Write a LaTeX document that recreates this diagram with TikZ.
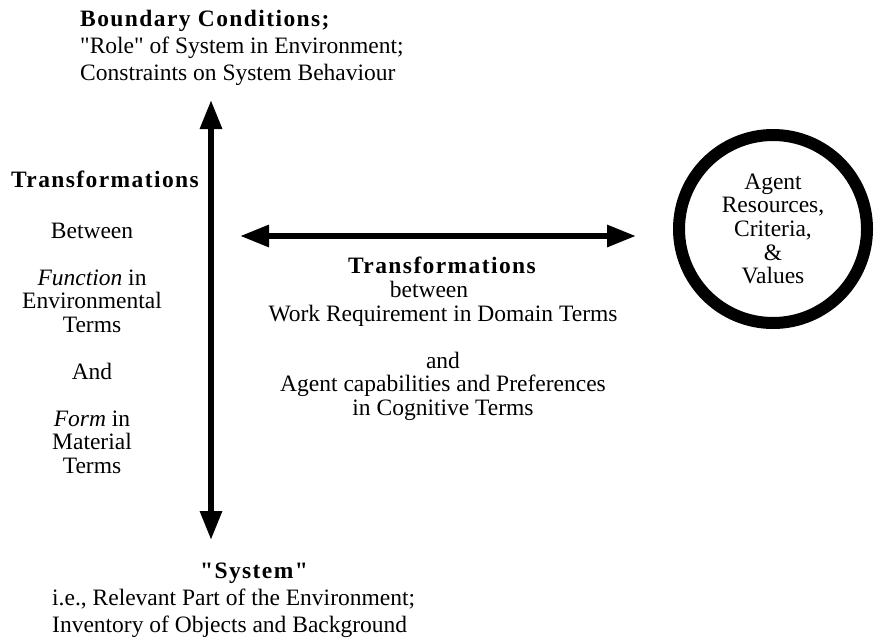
\documentclass[tikz,border=0pt]{standalone}
\usepackage{fontspec}
\setmainfont{Liberation Serif}[Ligatures=TeXOff]
\usetikzlibrary{positioning,arrows.meta}

\begin{document}
\begin{tikzpicture}[x=1pt,y=-1pt,
	txt/.style={inner sep=0pt, font=\fontsize{23.5}{23.5}\selectfont},
	wide/.style={inner sep=0pt, align=left, font=\fontsize{23.5}{26.8}\selectfont},
	bhead/.style={inner sep=0pt, font=\fontsize{23.5}{23.5}\selectfont\bfseries\addfontfeatures{LetterSpace=6}},
	arr/.style={line width=6pt, {Triangle[length=29pt,width=21pt]}-{Triangle[length=29pt,width=21pt]}},
	agentnode/.style={circle, draw, line width=12pt, minimum size=188pt, inner sep=0pt,
	align=center, font=\fontsize{23.5}{23.7}\selectfont}
	]
	\useasboundingbox (0,0) rectangle (874,637);

	% base = baseline of the last line
	\node[wide, anchor=base west] (bound) at (80,80) {{\bfseries\addfontfeatures{LetterSpace=6}Boundary Conditions;}\\
		"Role" of System in Environment;\\ Constraints on System Behaviour};

	\node[bhead, anchor=base] (lhead) at (105,187) {Transformations};
	\node[txt, align=center, anchor=base] (lbody) at (92,473) {Between\\[23.5pt]
		\textit{Function} in\\ Environmental\\ Terms\\[23.5pt] And\\[23.5pt]
		\textit{Form} in\\ Material\\ Terms};

	\node[bhead, anchor=base] (mhead) at (442,273) {Transformations};
	\node[txt, align=center, anchor=base] (mbody) at (443,415) {between\hspace*{28pt}\\
		Work Requirement in Domain Terms\\[23.5pt] and\\
		Agent capabilities and Preferences\\ in Cognitive Terms};

	\node[agentnode] (agent) at (773,229) {Agent\\ Resources,\\ Criteria,\\ \&\\ Values};

	\node[bhead, anchor=base] (syshead) at (254,578) {"System"};
	\node[wide, anchor=base west] (sysbody) at (52,632) {i.e., Relevant Part of the Environment;\\
		Inventory of Objects and Background};

	\coordinate (vtop) at (211,100);
	\coordinate (vbot) at (211,540);
	\coordinate (hl) at (240,236);
	\coordinate (hr) at (636,236);
	\draw[arr] (vtop) -- (vbot);
	\draw[arr] (hl) -- (hr);
\end{tikzpicture}
\end{document}
